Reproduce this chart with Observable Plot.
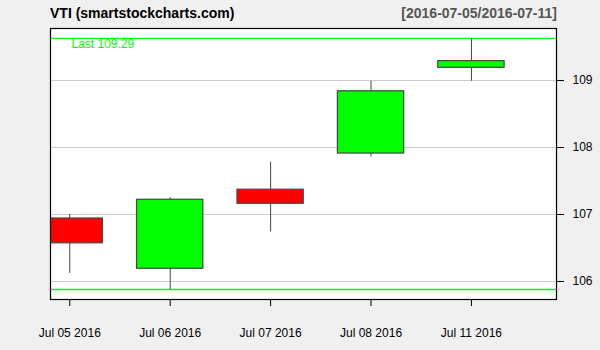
<!DOCTYPE html>
<html>
<head>
<meta charset="utf-8">
<script src="https://cdn.jsdelivr.net/npm/d3@7"></script>
<script src="https://cdn.jsdelivr.net/npm/@observablehq/plot@0.6"></script>
<style>
  html, body { margin: 0; padding: 0; background: #f0f0f0; }
  #wrap { position: relative; width: 600px; height: 350px; font-family: "Liberation Sans", Arial, sans-serif; }
  #title { position: absolute; left: 50px; top: 5px; font-size: 14px; font-weight: bold; color: #000; }
  #range { position: absolute; right: 43px; top: 5px; font-size: 14px; font-weight: bold; color: #555; }
</style>
</head>
<body>
<div id="wrap">
  <div id="chart"></div>
  <div id="title">VTI (smartstockcharts.com)</div>
  <div id="range">[2016-07-05/2016-07-11]</div>
</div>
<script>
const dates = ["Jul 05 2016", "Jul 06 2016", "Jul 07 2016", "Jul 08 2016", "Jul 11 2016"];
const open  = [106.94, 106.19, 107.37, 107.91, 109.19];
const high  = [107.00, 107.25, 107.78, 108.99, 109.63];
const low   = [106.12, 105.88, 106.74, 107.86, 108.99];
const close = [106.57, 107.22, 107.16, 108.84, 109.29];
const yTicks = [106, 107, 108, 109];

const data = dates.map((d, i) => ({i, date: d, open: open[i], high: high[i], low: low[i], close: close[i]}));
const maxHigh = d3.max(high);
const minLow = d3.min(low);
const last = close[close.length - 1];
const halfW = 0.33;

const chart = Plot.plot({
  width: 600,
  height: 350,
  marginTop: 28,
  marginBottom: 51,
  marginLeft: 50,
  marginRight: 44,
  style: {background: "#f0f0f0", fontFamily: "Liberation Sans, Arial, sans-serif", fontSize: "12px", color: "#000"},
  x: {domain: [-0.192, 4.847], label: null},
  y: {domain: [105.731, 109.777], label: null},
  marks: [
    Plot.frame({fill: "white"}),
    Plot.ruleY(yTicks, {stroke: "#cccccc", strokeWidth: 1}),
    Plot.ruleY([maxHigh, minLow], {stroke: "#00ff00", strokeWidth: 1.3}),
    Plot.ruleX(data, {x: "i", y1: "low", y2: "high", stroke: "#444", strokeWidth: 1, clip: true}),
    Plot.rect(data, {x1: d => d.i - halfW, x2: d => d.i + halfW, y1: "open", y2: "close",
      fill: d => d.close >= d.open ? "#00ff00" : "#ff0000", stroke: "#444", strokeWidth: 1.2, clip: true}),
    Plot.text([`Last ${last}`], {x: -0.192, y: maxHigh, dx: 21, dy: 6, text: d => d, textAnchor: "start", fill: "#00ff00", fontSize: 12}),
    Plot.axisX({ticks: dates.map((d, i) => i), tickFormat: i => dates[i], tickSize: 7, tickPadding: 22, stroke: "#000"}),
    Plot.axisY({anchor: "right", ticks: yTicks, tickSize: 7, tickPadding: 9, tickFormat: d => d}),
    Plot.frame({stroke: "#000", strokeWidth: 1.2})
  ]
});
document.getElementById("chart").appendChild(chart);
</script>
</body>
</html>
